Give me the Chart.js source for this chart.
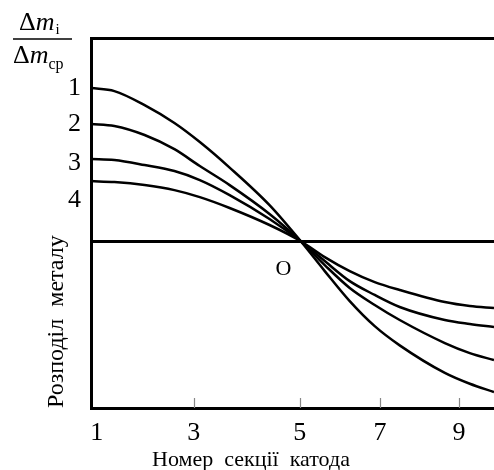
<!DOCTYPE html>
<html>
<head>
<meta charset="utf-8">
<title>Розподіл металу</title>
<script src="https://cdn.jsdelivr.net/npm/chart.js@4.4.0/dist/chart.umd.min.js"></script>
<style>
  body { margin: 0; background: #fff; }
  canvas { display: block; }
</style>
</head>
<body>
<canvas id="chart" width="494" height="470"></canvas>
<script>
// Position along the cathode (percent of plot width)
const positions = [0, 5.8, 13.3, 20.7, 27.0, 34.4, 44.3, 52.0, 58.0, 64.2, 70.4, 76.6, 87.8, 94.0, 100];
// Relative metal distribution, curves 1..4
const curve1 = [0.916, 0.898, 0.814, 0.707, 0.593, 0.440, 0.215, 0, -0.180, -0.360, -0.510, -0.625, -0.790, -0.855, -0.904];
const curve2 = [0.701, 0.689, 0.635, 0.550, 0.449, 0.335, 0.162, 0, -0.144, -0.281, -0.383, -0.473, -0.611, -0.671, -0.713];
const curve3 = [0.491, 0.485, 0.455, 0.419, 0.365, 0.275, 0.132, 0, -0.120, -0.240, -0.323, -0.395, -0.473, -0.497, -0.515];
const curve4 = [0.359, 0.353, 0.335, 0.305, 0.263, 0.198, 0.096, 0, -0.096, -0.180, -0.246, -0.293, -0.365, -0.389, -0.401];

// Section numbers on the bottom axis and where they sit
const sectionLabels = ['1', '3', '5', '7', '9'];
const sectionTicks = [1.4, 25.5, 51.8, 71.7, 91.3];
// Curve numbers on the left axis
const curveLabels = ['1', '2', '3', '4'];
const curveTicks = [0.916, 0.701, 0.467, 0.246];
const yMin = -1, yMax = 1.216;
const crossX = 52.0;

const serif = '"Liberation Serif", "Times New Roman", serif';
const yTickValues = [0, ...curveTicks, yMax];
const yTickLabels = ['', ...curveLabels, ''];

const toPoints = arr => arr.map((y, i) => ({ x: positions[i], y }));
const lineStyle = {
  borderColor: '#000',
  borderWidth: 2.5,
  pointRadius: 0,
  fill: false,
  cubicInterpolationMode: 'monotone'
};

// Extra drawing: inner tick marks, "O", x title, the fraction label
const extras = {
  id: 'extras',
  afterDraw(chart) {
    const { ctx, chartArea, scales: { x, y } } = chart;
    ctx.save();
    // small inward ticks on the bottom axis
    ctx.strokeStyle = '#888';
    ctx.lineWidth = 1.2;
    sectionTicks.slice(1).forEach(v => {
      const px = Math.round(x.getPixelForValue(v)) + 0.5;
      ctx.beginPath();
      ctx.moveTo(px, chartArea.bottom - 10);
      ctx.lineTo(px, chartArea.bottom);
      ctx.stroke();
    });

    ctx.fillStyle = '#000';
    ctx.textBaseline = 'alphabetic';
    // point O
    ctx.font = '22px ' + serif;
    ctx.textAlign = 'center';
    ctx.fillText('O', x.getPixelForValue(crossX) - 17, y.getPixelForValue(0) + 34);

    // x axis title
    ctx.font = '22px ' + serif;
    ctx.fillText('Номер  секції  катода', 251, 466);

    // fraction  Δm_i / Δm_ср
    ctx.textAlign = 'left';
    ctx.font = '26px ' + serif;
    ctx.fillText('Δ', 19, 30);
    let w = ctx.measureText('Δ').width;
    ctx.font = 'italic 26px ' + serif;
    ctx.fillText('m', 19 + w, 30);
    let w2 = ctx.measureText('m').width;
    ctx.font = '15px ' + serif;
    ctx.fillText('i', 19 + w + w2 + 1, 34);

    ctx.font = '26px ' + serif;
    ctx.fillText('Δ', 13, 63);
    w = ctx.measureText('Δ').width;
    ctx.font = 'italic 26px ' + serif;
    ctx.fillText('m', 13 + w, 63);
    w2 = ctx.measureText('m').width;
    ctx.font = '16px ' + serif;
    ctx.fillText('ср', 13 + w + w2, 69);

    ctx.strokeStyle = '#000';
    ctx.lineWidth = 1.5;
    ctx.beginPath();
    ctx.moveTo(13, 39);
    ctx.lineTo(72, 39);
    ctx.stroke();
    ctx.restore();
  }
};

new Chart(document.getElementById('chart'), {
  type: 'line',
  data: {
    datasets: [
      { label: '1', data: toPoints(curve1), ...lineStyle },
      { label: '2', data: toPoints(curve2), ...lineStyle },
      { label: '3', data: toPoints(curve3), ...lineStyle },
      { label: '4', data: toPoints(curve4), ...lineStyle }
    ]
  },
  options: {
    responsive: false,
    animation: false,
    layout: { padding: { top: 38, right: 0, left: 0, bottom: 0 } },
    plugins: { legend: { display: false }, tooltip: { enabled: false } },
    scales: {
      x: {
        type: 'linear',
        min: 0,
        max: 100,
        afterBuildTicks: scale => { scale.ticks = sectionTicks.map(v => ({ value: v })); },
        afterFit: scale => { scale.height = 62; },
        grid: { display: false, drawTicks: false },
        border: { display: true, color: '#000', width: 3 },
        ticks: {
          autoSkip: false,
          maxRotation: 0,
          padding: 10,
          color: '#000',
          font: { family: serif, size: 26 },
          callback: (v, i) => sectionLabels[i]
        }
      },
      y: {
        type: 'linear',
        min: yMin,
        max: yMax,
        afterBuildTicks: scale => { scale.ticks = yTickValues.map(v => ({ value: v })); },
        afterFit: scale => { scale.width = 91; },
        grid: {
          drawTicks: false,
          lineWidth: 3,
          color: c => (c.tick && (c.tick.value === 0 || c.tick.value === yMax)) ? '#000' : 'rgba(0,0,0,0)'
        },
        border: { display: true, color: '#000', width: 3 },
        ticks: {
          autoSkip: false,
          padding: 10,
          color: '#000',
          font: { family: serif, size: 26 },
          callback: (v, i) => yTickLabels[i]
        },
        title: {
          display: true,
          text: 'Розподіл  металу',
          align: 'start',
          color: '#000',
          font: { family: serif, size: 24 },
          padding: { top: 42, bottom: 0 }
        }
      }
    }
  },
  plugins: [extras]
});
</script>
</body>
</html>
